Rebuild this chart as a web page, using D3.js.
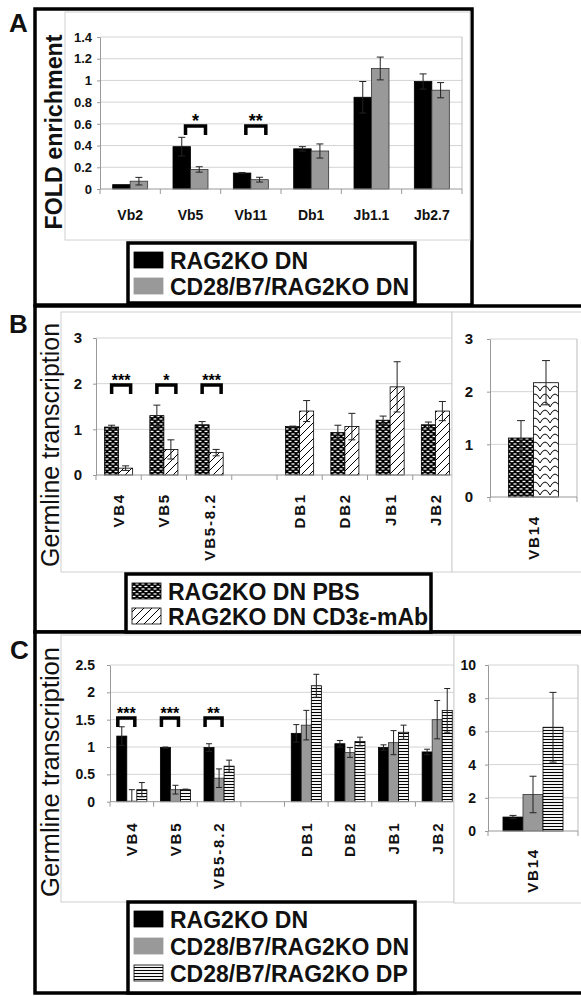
<!DOCTYPE html>
<html>
<head>
<meta charset="utf-8">
<script src="https://cdn.jsdelivr.net/npm/d3@7"></script>
<style>
body { margin: 0; background: #fff; }
svg { display: block; }
</style>
</head>
<body>
<div id="chart"></div>
<script>
// ---- panel A data
var catsA = ['Vb2', 'Vb5', 'Vb11', 'Db1', 'Jb1.1', 'Jb2.7'];
var ragA = [0.04, 0.39, 0.147, 0.37, 0.845, 0.99];
var ragErrA = [0, 0.086, 0.005, 0.02, 0.145, 0.07];
var cd28A = [0.072, 0.18, 0.086, 0.35, 1.11, 0.91];
var cd28ErrA = [0.035, 0.025, 0.022, 0.065, 0.105, 0.07];
var ticksA = [0, 0.2, 0.4, 0.6, 0.8, 1, 1.2, 1.4];
var sigCatsA = ['Vb5', 'Vb11'];
var sigStarsA = ['*', '**'];
var legendA = ['RAG2KO DN', 'CD28/B7/RAG2KO DN'];

// ---- panel B data
var catsB = ['VB4', 'VB5', 'VB5-8.2', '', 'DB1', 'DB2', 'JB1', 'JB2'];
var pbsB = [1.05, 1.30, 1.10, null, 1.06, 0.93, 1.20, 1.10];
var pbsErrB = [0.04, 0.23, 0.07, null, 0.01, 0.16, 0.09, 0.06];
var cd3B = [0.15, 0.56, 0.49, null, 1.40, 1.06, 1.93, 1.40];
var cd3ErrB = [0.05, 0.21, 0.07, null, 0.23, 0.29, 0.55, 0.21];
var ticksB = [0, 1, 2, 3];
var sigCatsB = ['VB4', 'VB5', 'VB5-8.2'];
var sigStarsB = ['***', '*', '***'];
var catsB14 = ['VB14'];
var pbsB14 = [1.12];
var pbsErrB14 = [0.33];
var cd3B14 = [2.17];
var cd3ErrB14 = [0.42];
var legendB = ['RAG2KO DN PBS', 'RAG2KO DN CD3\u03b5-mAb'];

// ---- panel C data
var catsC = ['VB4', 'VB5', 'VB5-8.2', '', 'DB1', 'DB2', 'JB1', 'JB2'];
var dnC = [1.20, 0.99, 0.99, null, 1.25, 1.06, 0.99, 0.91];
var dnErrC = [0.17, 0.01, 0.07, null, 0.16, 0.06, 0.05, 0.05];
var cdDnC = [0.01, 0.22, 0.43, null, 1.40, 0.90, 1.08, 1.50];
var cdDnErrC = [0.21, 0.08, 0.17, null, 0.27, 0.09, 0.22, 0.35];
var cdDpC = [0.22, 0.22, 0.65, null, 2.12, 1.10, 1.27, 1.67];
var cdDpErrC = [0.13, 0.01, 0.11, null, 0.21, 0.08, 0.13, 0.40];
var ticksC = [0, 0.5, 1, 1.5, 2, 2.5];
var sigCatsC = ['VB4', 'VB5', 'VB5-8.2'];
var sigStarsC = ['***', '***', '**'];
var catsC14 = ['VB14'];
var dnC14 = [0.84];
var dnErrC14 = [0.1];
var cdDnC14 = [2.2];
var cdDnErrC14 = [1.1];
var cdDpC14 = [6.25];
var cdDpErrC14 = [2.1];
var ticksC14 = [0, 2, 4, 6, 8, 10];
var legendC = ['RAG2KO DN', 'CD28/B7/RAG2KO DN', 'CD28/B7/RAG2KO DP'];

var FONT = "'Liberation Sans', Arial, sans-serif";

var svg = d3.select('#chart')
    .append('svg')
    .attr('width', 581)
    .attr('height', 996)
    .style('font-family', FONT);

// fill patterns
var defs = svg.append('defs');
var p1 = defs.append('pattern').attr('id', 'pbs').attr('patternUnits', 'userSpaceOnUse')
    .attr('width', 6).attr('height', 5);
p1.append('rect').attr('width', 6).attr('height', 5).attr('fill', '#000');
[[0.5, 0.8], [3.5, 3.3], [-2.5, 3.3]].forEach(function(p) {
    p1.append('rect').attr('x', p[0]).attr('y', p[1]).attr('width', 3).attr('height', 1.3).attr('fill', '#fff');
});
var p2 = defs.append('pattern').attr('id', 'zig').attr('patternUnits', 'userSpaceOnUse')
    .attr('width', 8).attr('height', 8);
p2.append('rect').attr('width', 8).attr('height', 8).attr('fill', '#fff');
p2.append('path').attr('d', 'M-1,9 L9,-1 M-1,1 L1,-1 M7,9 L9,7')
    .attr('stroke', '#000').attr('stroke-width', 1);
var p3 = defs.append('pattern').attr('id', 'wave').attr('patternUnits', 'userSpaceOnUse')
    .attr('width', 10).attr('height', 8);
p3.append('rect').attr('width', 10).attr('height', 8).attr('fill', '#fff');
p3.append('path').attr('d', 'M0,7 Q5,-3 10,7')
    .attr('stroke', '#000').attr('stroke-width', 1).attr('fill', 'none');
var p4 = defs.append('pattern').attr('id', 'hstripe').attr('patternUnits', 'userSpaceOnUse')
    .attr('width', 4).attr('height', 3);
p4.append('rect').attr('width', 4).attr('height', 3).attr('fill', '#fff');
p4.append('line').attr('x1', 0).attr('x2', 4).attr('y1', 1.5).attr('y2', 1.5)
    .attr('stroke', '#000').attr('stroke-width', 1.1);

// panel boxes and chart frames
function box(x, y, w, h, stroke, sw, fill) {
    svg.append('rect').attr('x', x).attr('y', y).attr('width', w).attr('height', h)
        .attr('fill', fill || 'none').attr('stroke', stroke).attr('stroke-width', sw);
}
box(35, 9, 437, 296, '#000', 3.5, '#fff');
box(35, 306, 600, 326, '#000', 3.5, '#fff');
box(35, 632, 600, 361, '#000', 3.5, '#fff');
box(65, 12, 405, 228, '#d0d0d0', 1, '#fff');
box(61, 312, 391, 260, '#d0d0d0', 1, '#fff');
box(61, 635, 393, 267, '#d0d0d0', 1, '#fff');

// one bar chart with error bars, axes and brackets
function plot(o) {
    var x = d3.scaleBand().domain(o.cats).range([o.left, o.right]);
    var inner = d3.scaleBand().domain(d3.range(o.series.length)).range([0, x.bandwidth() * o.frac]);
    var off = x.bandwidth() * (1 - o.frac) / 2;
    var y = d3.scaleLinear().domain([0, o.max]).range([o.bottom, o.top]);
    var g = svg.append('g');

    g.selectAll('line.grid')
        .data(o.ticks.filter(function(t) { return t > 0; }))
        .enter()
        .append('line')
        .attr('x1', o.left).attr('x2', o.right)
        .attr('y1', function(d) { return y(d); })
        .attr('y2', function(d) { return y(d); })
        .attr('stroke', '#d4d4d4');
    g.append('line').attr('x1', o.right).attr('x2', o.right)
        .attr('y1', o.top).attr('y2', o.bottom).attr('stroke', '#bbb');

    o.series.forEach(function(s, si) {
        var rows = o.cats.map(function(c, i) { return {c: c, v: s.vals[i], e: s.errs[i]}; })
            .filter(function(d) { return d.v != null; });
        g.append('g').selectAll('rect')
            .data(rows)
            .enter()
            .append('rect')
            .attr('x', function(d) { return x(d.c) + off + inner(si); })
            .attr('y', function(d) { return y(d.v); })
            .attr('width', inner.bandwidth())
            .attr('height', function(d) { return y(0) - y(d.v); })
            .attr('fill', s.fill)
            .attr('stroke', s.stroke || '#000')
            .attr('stroke-width', 0.8);
        s.rows = rows;
    });

    // error bars
    o.series.forEach(function(s, si) {
        var eg = g.append('g').attr('stroke', '#222').attr('stroke-width', 1);
        s.rows.filter(function(d) { return d.e > 0; }).forEach(function(d) {
            var cx = x(d.c) + off + inner(si) + inner.bandwidth() / 2;
            var lo = y(Math.max(0, d.v - d.e)), hi = y(d.v + d.e);
            eg.append('line').attr('x1', cx).attr('x2', cx).attr('y1', lo).attr('y2', hi);
            eg.append('line').attr('x1', cx - o.cap).attr('x2', cx + o.cap).attr('y1', hi).attr('y2', hi);
            if (d.v - d.e > 0) {
                eg.append('line').attr('x1', cx - o.cap).attr('x2', cx + o.cap).attr('y1', lo).attr('y2', lo);
            }
        });
    });

    // y axis
    g.append('g')
        .attr('transform', 'translate(' + o.left + ',0)')
        .call(d3.axisLeft(y).tickValues(o.ticks).tickFormat(o.fmt || d3.format('')).tickSizeInner(3).tickSizeOuter(0).tickPadding(o.tickPad))
        .call(function(s) {
            s.select('.domain').attr('stroke', '#999');
            s.selectAll('.tick line').attr('stroke', '#999');
            s.selectAll('.tick text').attr('font-size', o.tickSize).attr('font-weight', 'bold')
                .attr('font-family', FONT).attr('fill', '#111');
        });

    // x axis line and category ticks
    var y0 = y(0);
    g.append('line').attr('x1', o.left).attr('x2', o.right).attr('y1', y0).attr('y2', y0).attr('stroke', '#999');
    g.selectAll('line.xt')
        .data(o.cats.map(function(c) { return x(c); }).concat([o.right]))
        .enter()
        .append('line')
        .attr('x1', function(d) { return d; }).attr('x2', function(d) { return d; })
        .attr('y1', y0).attr('y2', y0 + 5).attr('stroke', '#999');

    // category labels
    g.selectAll('text.cat')
        .data(o.cats)
        .enter()
        .append('text')
        .text(function(d) { return d; })
        .attr('font-size', o.labelSize)
        .attr('font-weight', 'bold')
        .attr('fill', '#111')
        .attr('letter-spacing', o.rotate ? 1.8 : 0)
        .attr('text-anchor', o.rotate ? 'end' : 'middle')
        .attr('dy', o.rotate ? '0.36em' : 0)
        .attr('transform', function(d) {
            var cx = x(d) + x.bandwidth() / 2;
            return o.rotate ? 'translate(' + cx + ',' + (y0 + o.labelGap) + ') rotate(-90)'
                            : 'translate(' + cx + ',' + (y0 + o.labelGap) + ')';
        });

    // significance brackets
    if (o.sigCats) {
        var top = y(o.sigLevel);
        o.sigCats.forEach(function(c, i) {
            var cx = x(c) + x.bandwidth() / 2;
            var x1 = cx + o.sigSpan[0], x2 = cx + o.sigSpan[1];
            g.append('path')
                .attr('d', 'M' + x1 + ',' + (top + 9) + 'L' + x1 + ',' + top + 'L' + x2 + ',' + top + 'L' + x2 + ',' + (top + 9))
                .attr('fill', 'none').attr('stroke', '#000').attr('stroke-width', 3.5);
            g.append('text').text(o.sigStars[i])
                .attr('x', (x1 + x2) / 2).attr('y', top + 1)
                .attr('text-anchor', 'middle').attr('font-size', o.starSize)
                .attr('font-weight', 'bold').attr('fill', '#000');
        });
    }
    return g;
}

// ---- A
plot({
    cats: catsA, left: 100, right: 462, top: 37, bottom: 189, max: 1.4, ticks: ticksA,
    fmt: d3.format('~g'), frac: 0.58, cap: 3.5, tickPad: 5, tickSize: 13,
    labelSize: 14, labelGap: 31, rotate: false,
    series: [{vals: ragA, errs: ragErrA, fill: '#000'}, {vals: cd28A, errs: cd28ErrA, fill: '#999', stroke: '#333'}],
    sigCats: sigCatsA, sigStars: sigStarsA, sigLevel: 0.58, sigSpan: [-5, 15], starSize: 18
});

// ---- B main and inset
plot({
    cats: catsB, left: 96, right: 458, top: 338, bottom: 475, max: 3, ticks: ticksB,
    frac: 0.62, cap: 3.5, tickPad: 11, tickSize: 15,
    labelSize: 15, labelGap: 18, rotate: true,
    series: [{vals: pbsB, errs: pbsErrB, fill: 'url(#pbs)'}, {vals: cd3B, errs: cd3ErrB, fill: 'url(#zig)'}],
    sigCats: sigCatsB, sigStars: sigStarsB, sigLevel: 1.97, sigSpan: [-7, 12], starSize: 16
});
box(452, 312, 150, 260, '#d0d0d0', 1, '#fff');
plot({
    cats: catsB14, left: 490, right: 577, top: 339, bottom: 497, max: 3, ticks: ticksB,
    frac: 0.575, cap: 4, tickPad: 14, tickSize: 15,
    labelSize: 15, labelGap: 18, rotate: true,
    series: [{vals: pbsB14, errs: pbsErrB14, fill: 'url(#pbs)'}, {vals: cd3B14, errs: cd3ErrB14, fill: 'url(#wave)'}]
});

// ---- C main and inset
plot({
    cats: catsC, left: 110, right: 459, top: 665, bottom: 801.7, max: 2.5, ticks: ticksC,
    fmt: d3.format('~g'), frac: 0.69, cap: 3, tickPad: 12, tickSize: 14,
    labelSize: 15, labelGap: 20, rotate: true,
    series: [{vals: dnC, errs: dnErrC, fill: '#000'},
             {vals: cdDnC, errs: cdDnErrC, fill: '#999', stroke: '#333'},
             {vals: cdDpC, errs: cdDpErrC, fill: 'url(#hstripe)'}],
    sigCats: sigCatsC, sigStars: sigStarsC, sigLevel: 1.53, sigSpan: [-14, 3], starSize: 16
});
box(454, 635, 150, 268, '#d0d0d0', 1, '#fff');
plot({
    cats: catsC14, left: 488, right: 578, top: 665, bottom: 831, max: 10, ticks: ticksC14,
    frac: 0.667, cap: 3.5, tickPad: 9, tickSize: 14,
    labelSize: 15, labelGap: 17, rotate: true,
    series: [{vals: dnC14, errs: dnErrC14, fill: '#000'},
             {vals: cdDnC14, errs: cdDnErrC14, fill: '#999', stroke: '#333'},
             {vals: cdDpC14, errs: cdDpErrC14, fill: 'url(#hstripe)'}]
});

// y axis titles
function yTitle(t, cx, cy, size, weight, len) {
    svg.append('text').text(t)
        .attr('transform', 'translate(' + cx + ',' + cy + ') rotate(-90)')
        .attr('text-anchor', 'middle').attr('dy', '0.36em')
        .attr('font-size', size).attr('font-weight', weight).attr('fill', '#111')
        .attr('textLength', len).attr('lengthAdjust', 'spacingAndGlyphs');
}
yTitle('FOLD enrichment', 54, 132, 23, 'bold', 195);
yTitle('Germline transcription', 50, 445, 25, 'normal', 244);
yTitle('Germline transcription', 50, 772, 25, 'normal', 250);

// panel letters
[['A', 9, 32], ['B', 9, 333], ['C', 10, 659]].forEach(function(p) {
    svg.append('text').text(p[0]).attr('x', p[1]).attr('y', p[2])
        .attr('font-size', 26).attr('font-weight', 'bold').attr('fill', '#111');
});

// legends
function legend(x, y, w, h, labels, fills, rows) {
    box(x, y, w, h, '#000', 3.5, '#fff');
    labels.forEach(function(t, i) {
        svg.append('rect').attr('x', x + 6).attr('y', rows[i] - 16).attr('width', 29).attr('height', 16)
            .attr('fill', fills[i]).attr('stroke', fills[i] == '#999' ? '#999' : '#000').attr('stroke-width', 0.8);
        svg.append('text').text(t).attr('x', x + 42).attr('y', rows[i] + 1)
            .attr('font-size', 23).attr('font-weight', 'bold').attr('fill', '#111');
    });
}
legend(128, 243, 287, 60, legendA, ['#000', '#999'], [268, 294]);
legend(126, 574, 305, 58, legendB, ['url(#pbs)', 'url(#zig)'], [599, 624]);
legend(128, 902, 287, 91, legendC, ['#000', '#999', 'url(#hstripe)'], [927, 954, 981]);
</script>
</body>
</html>
